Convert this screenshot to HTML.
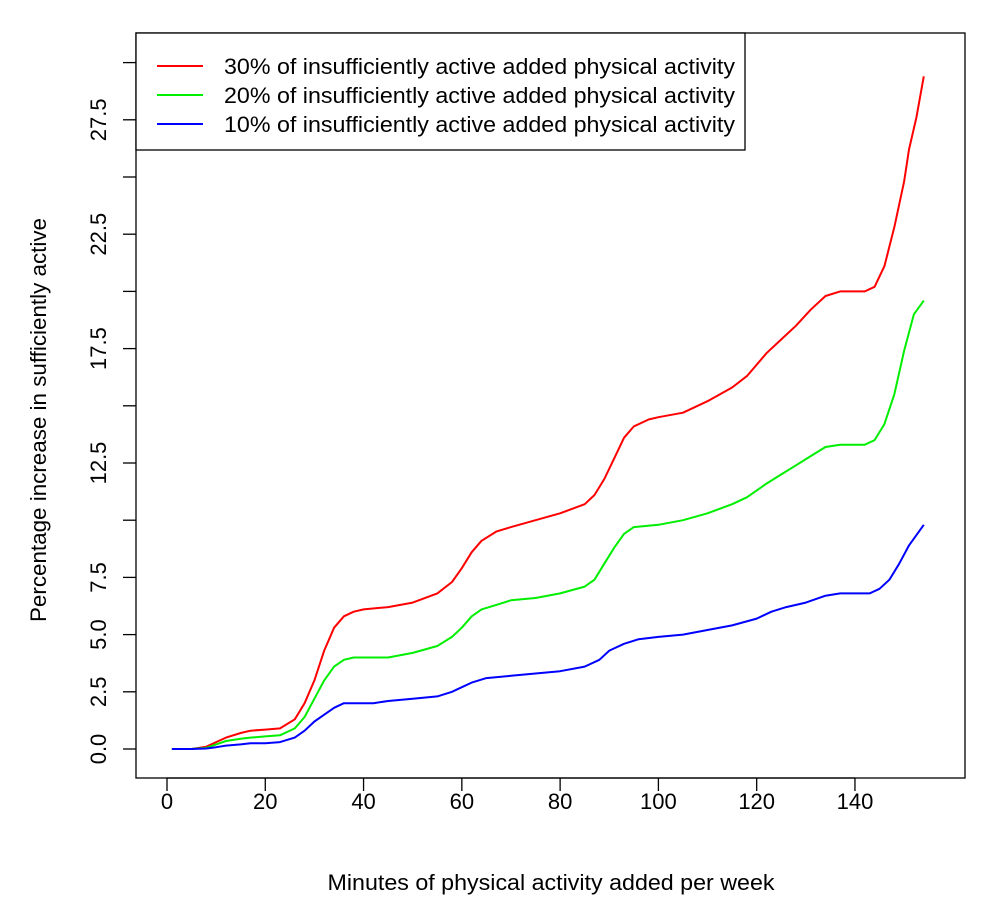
<!DOCTYPE html>
<html><head><meta charset="utf-8"><style>
body{margin:0;background:#fff}
svg{display:block;font-family:"Liberation Sans",Arial,sans-serif}
</style></head><body>
<svg id="chart" width="1000" height="910" xmlns="http://www.w3.org/2000/svg">
<rect x="0" y="0" width="1000" height="910" fill="#fff"/>
<g id="plot"></g>
</svg>
<script>
const xs30=[1,5,8,10,12,15,17,20,23,26,28,30,32,34,36,38,40,45,50,55,58,60,62,64,67,70,75,80,85,87,89,91,93,95,98,100,105,110,115,118,122,125,128,131,134,137,142,144,146,148,150,151,152.5,154];
const red=[0,0,0.1,0.3,0.5,0.7,0.8,0.85,0.9,1.3,2,3,4.3,5.3,5.8,6.0,6.1,6.2,6.4,6.8,7.3,7.9,8.6,9.1,9.5,9.7,10.0,10.3,10.7,11.1,11.8,12.7,13.6,14.1,14.4,14.5,14.7,15.2,15.8,16.3,17.3,17.9,18.5,19.2,19.8,20.0,20.0,20.2,21.1,22.8,24.8,26.2,27.6,29.4];
const xs20=[1,5,8,10,12,15,17,20,23,26,28,30,32,34,36,38,45,50,55,58,60,62,64,67,70,75,80,85,87,89,91,93,95,100,105,110,115,118,122,125,128,131,134,137,142,144,146,148,150,152,154];
const green=[0,0,0.05,0.2,0.35,0.45,0.5,0.55,0.6,0.9,1.4,2.2,3.0,3.6,3.9,4.0,4.0,4.2,4.5,4.9,5.3,5.8,6.1,6.3,6.5,6.6,6.8,7.1,7.4,8.1,8.8,9.4,9.7,9.8,10.0,10.3,10.7,11.0,11.6,12.0,12.4,12.8,13.2,13.3,13.3,13.5,14.2,15.5,17.4,19.0,19.6];
const xs10=[1,5,8,10,12,15,17,20,23,26,28,30,32,34,36,38,42,45,50,55,58,60,62,65,70,75,80,85,88,90,93,96,100,105,110,115,120,123,126,130,134,137,143,145,147,149,151,154];
const blue=[0,0,0.02,0.08,0.15,0.2,0.25,0.25,0.3,0.5,0.8,1.2,1.5,1.8,2.0,2.0,2.0,2.1,2.2,2.3,2.5,2.7,2.9,3.1,3.2,3.3,3.4,3.6,3.9,4.3,4.6,4.8,4.9,5.0,5.2,5.4,5.7,6.0,6.2,6.4,6.7,6.8,6.8,7.0,7.4,8.1,8.9,9.8];
const xTicks=[0,20,40,60,80,100,120,140];
const yTicks=[0,2.5,5,7.5,10,12.5,15,17.5,20,22.5,25,27.5,30];
const yTickLabels=["0.0","2.5","5.0","7.5","","12.5","","17.5","","22.5","","27.5",""];
const legendLabels=["30% of insufficiently active added physical activity","20% of insufficiently active added physical activity","10% of insufficiently active added physical activity"];
const legendColors=["#ff0000","#00ee00","#0000ff"];

const NS="http://www.w3.org/2000/svg";
const g=document.getElementById('plot');
const X=v=>167+v*4.914;
const Y=v=>749-v*22.88;
function mk(t,a){const e=document.createElementNS(NS,t);for(const k in a)e.setAttribute(k,a[k]);g.appendChild(e);return e;}
let e;
e=mk('rect',{x:136,y:33,width:829,height:745,fill:'none',stroke:'#000','stroke-width':1.3});


xTicks.forEach(t=>{
  e=mk('line',{x1:X(t),x2:X(t),y1:778,y2:791,stroke:'#000','stroke-width':1.3});
  
  
  e=mk('text',{x:X(t),y:809,'font-size':22,'text-anchor':'middle'});e.textContent=t;
  
  
});
e=mk('line',{x1:X(0),x2:X(140),y1:778,y2:778,stroke:'#000','stroke-width':1.3});


yTicks.forEach((t,i)=>{
  e=mk('line',{x1:123,x2:136,y1:Y(t),y2:Y(t),stroke:'#000','stroke-width':1.3});
  
  
  if(yTickLabels[i]){
    e=mk('text',{x:0,y:0,'font-size':22,'text-anchor':'middle',transform:`translate(106,${Y(t)}) rotate(-90)`});e.textContent=yTickLabels[i];
    
    
  }
});
e=mk('text',{x:551,y:890,'font-size':22,'text-anchor':'middle',textLength:447,lengthAdjust:'spacingAndGlyphs'});e.textContent='Minutes of physical activity added per week';


e=mk('text',{x:0,y:0,'font-size':22,'text-anchor':'middle',textLength:404,lengthAdjust:'spacingAndGlyphs',transform:'translate(46,420) rotate(-90)'});e.textContent='Percentage increase in sufficiently active';


[[xs30,red,legendColors[0],'series-30-percent'],[xs20,green,legendColors[1],'series-20-percent'],[xs10,blue,legendColors[2],'series-10-percent']].forEach(s=>{
  const pts=s[0].map((x,i)=>X(x).toFixed(1)+','+Y(s[1][i]).toFixed(1)).join(' ');
  e=mk('polyline',{points:pts,fill:'none',stroke:s[2],'stroke-width':2,'stroke-linejoin':'round'});
  
  
});
e=mk('rect',{x:136,y:33,width:609,height:117,fill:'#fff',stroke:'#000','stroke-width':1.3});


legendLabels.forEach((l,i)=>{
  const y=66+i*29;
  e=mk('line',{x1:157,x2:203,y1:y,y2:y,stroke:legendColors[i],'stroke-width':2});
  
  
  e=mk('text',{x:224,y:y+8,'font-size':22,textLength:511,lengthAdjust:'spacingAndGlyphs'});e.textContent=l;
  
  
});
</script>
</body></html>
